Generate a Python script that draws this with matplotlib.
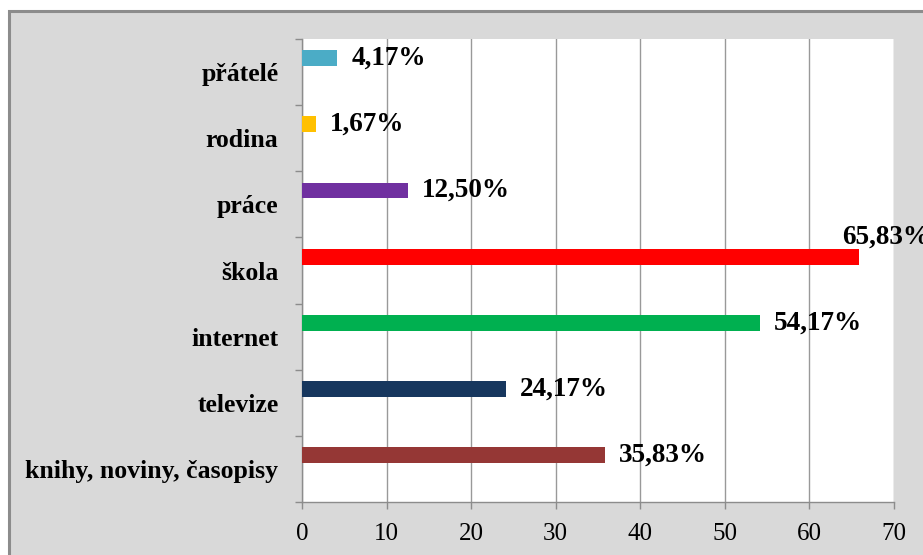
import matplotlib
matplotlib.use("Agg")
import matplotlib.pyplot as plt
from matplotlib.patches import Rectangle

categories = ["knihy, noviny, časopisy", "televize", "internet", "škola", "práce", "rodina", "přátelé"]
values = [35.83, 24.17, 54.17, 65.83, 12.50, 1.67, 4.17]
labels = ["35,83%", "24,17%", "54,17%", "65,83%", "12,50%", "1,67%", "4,17%"]
colors = ["#953735", "#17375E", "#00B050", "#FF0000", "#7030A0", "#FFC000", "#4BACC6"]
xticks = [0, 10, 20, 30, 40, 50, 60, 70]

DPI = 100
fig = plt.figure(figsize=(9.23, 5.55), dpi=DPI, facecolor="white")

# outer chart area with border
fig.patches.append(Rectangle((8.5 / 923, -0.1), 1.2, (555 - 10.5) / 555 + 0.1,
                             transform=fig.transFigure, facecolor="#D9D9D9",
                             edgecolor="#8C8C8C", linewidth=2.2, zorder=-5))

ax = fig.add_axes([302 / 923, (555 - 502) / 555, (894 - 302) / 923, (502 - 39) / 555])
ax.set_zorder(1)
ax.set_facecolor("white")

serif = ["Liberation Serif", "DejaVu Serif"]
n = len(categories)
pos = [i + 0.21 for i in range(n)]
ax.barh(pos, values, height=0.24, color=colors, zorder=3)

ax.set_xlim(0, 70)
ax.set_ylim(-0.5, n - 0.5)
ax.set_xticks(xticks)
ax.set_xticklabels([str(t) for t in xticks], fontfamily=serif, fontsize=18)
ax.set_yticks(range(n))
ax.set_yticklabels(categories, fontfamily=serif, fontsize=18.5, fontweight="bold")
ax.set_yticks([i - 0.5 for i in range(n + 1)], minor=True)

ax.tick_params(axis="y", which="major", length=0, pad=17)
ax.tick_params(axis="y", which="minor", length=5, width=1, color="#8C8C8C", direction="out")
ax.tick_params(axis="x", which="major", length=5, width=1, color="#8C8C8C", direction="out", pad=10)

ax.grid(axis="x", color="#999999", linewidth=1, zorder=1)
for s in ["top", "right"]:
    ax.spines[s].set_visible(False)
for s in ["left", "bottom"]:
    ax.spines[s].set_color("#8C8C8C")
    ax.spines[s].set_linewidth(1)

vmax = max(values)
for p, v, lab in zip(pos, values, labels):
    if v == vmax:
        ax.annotate(lab, (v, p), xytext=(-12, 14), textcoords="offset points",
                    ha="left", va="center", fontfamily=serif, fontsize=19.5,
                    fontweight="bold", annotation_clip=False, zorder=4)
    else:
        ax.annotate(lab, (v, p), xytext=(10, 0), textcoords="offset points",
                    ha="left", va="center", fontfamily=serif, fontsize=19.5,
                    fontweight="bold", zorder=4)

fig.savefig("out.png", dpi=DPI, facecolor=fig.get_facecolor())
